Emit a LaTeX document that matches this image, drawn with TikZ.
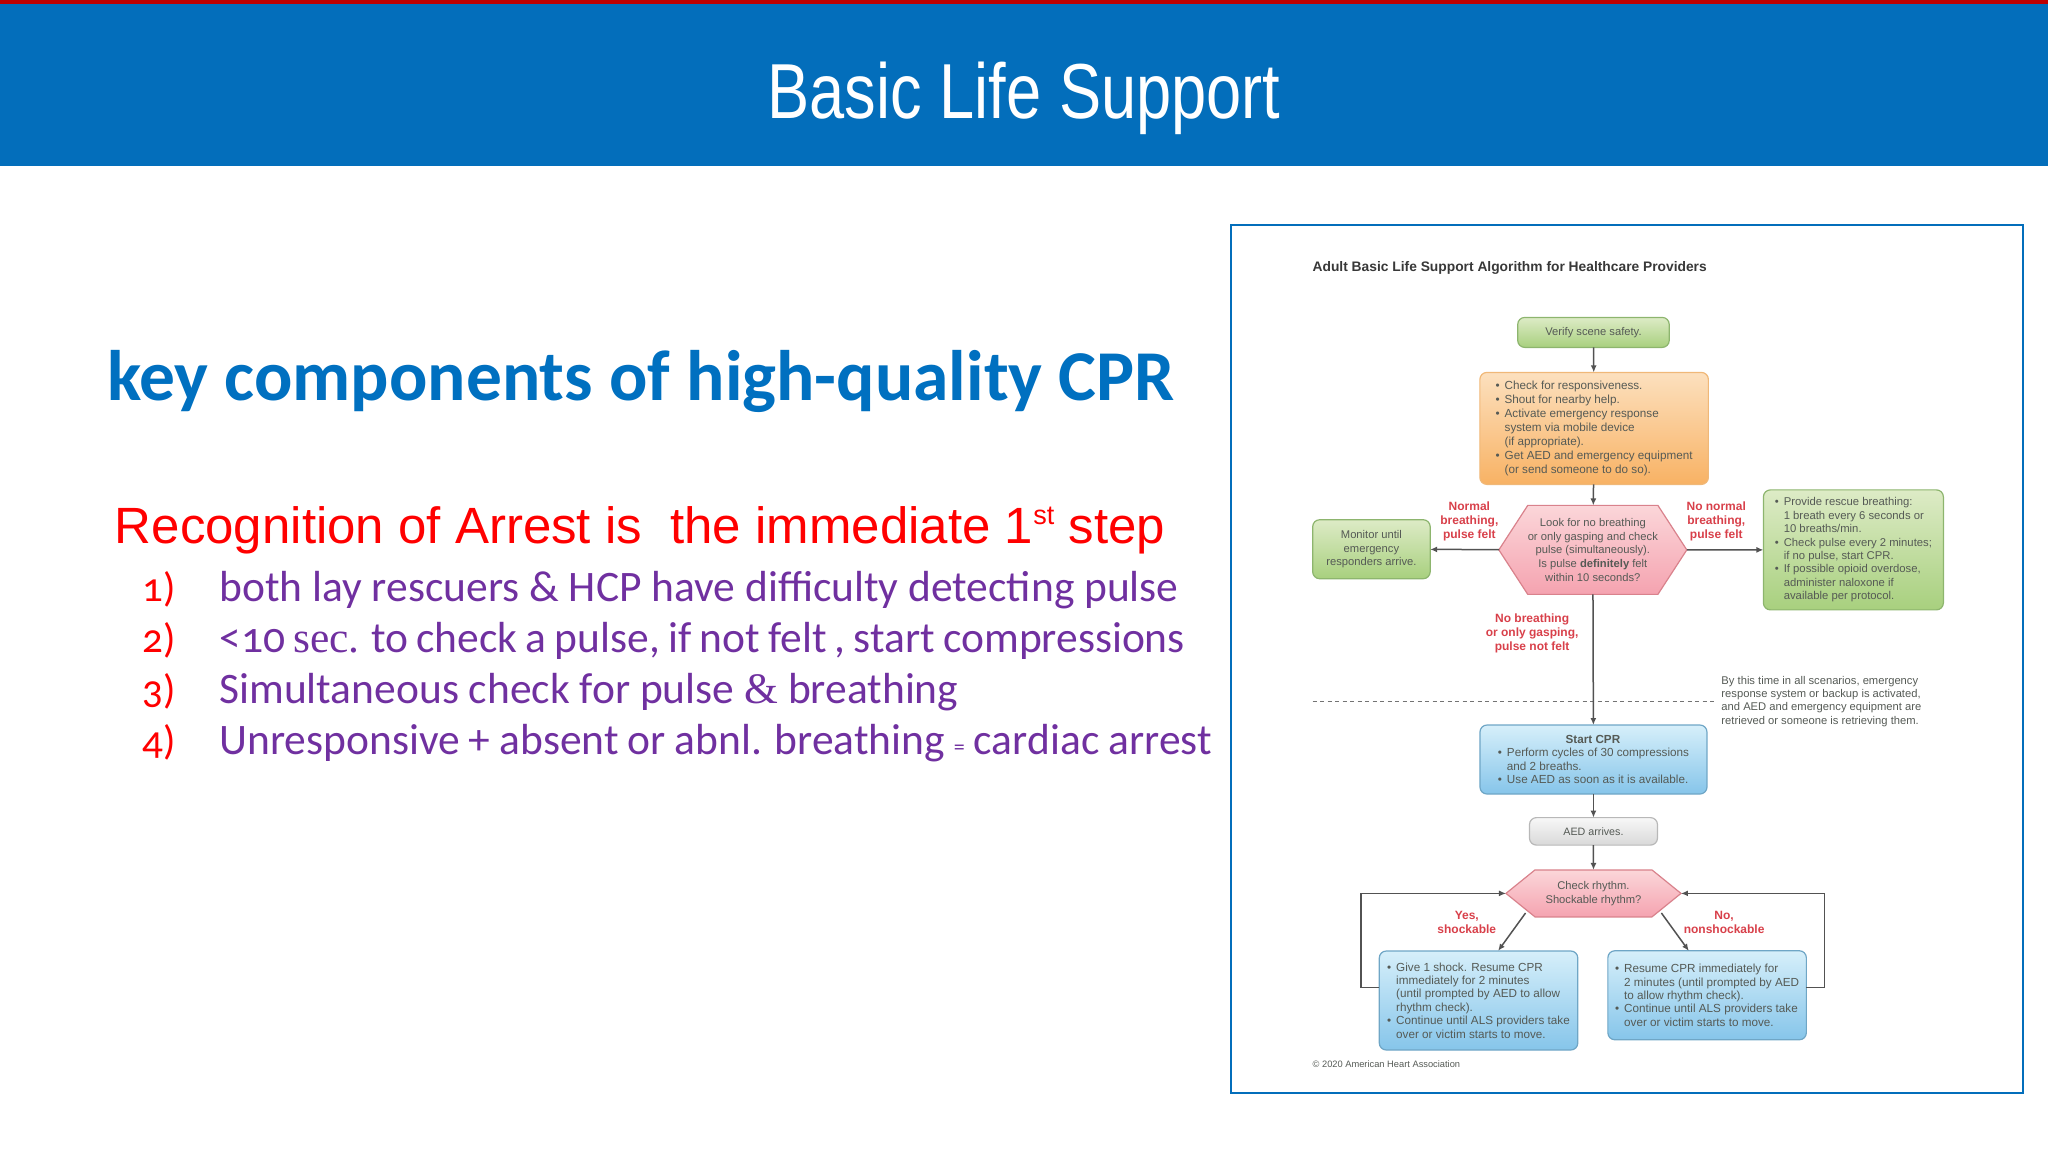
\documentclass[tikz,border=0pt]{standalone}
\usepackage{fontspec}
\setmainfont{Liberation Sans}
\newfontfamily\carl[Numbers=OldStyle]{Carlito}
\newfontfamily\serifx{Liberation Serif}
\usetikzlibrary{shapes.symbols,arrows.meta}
\definecolor{hdr}{HTML}{036EBB}
\definecolor{ttl}{HTML}{0070C0}
\definecolor{purp}{HTML}{7030A0}
\definecolor{txtg}{HTML}{555A55}
\definecolor{lblr}{HTML}{D8404A}
\definecolor{gtop}{HTML}{DDEBC6}
\definecolor{gbot}{HTML}{A8D07E}
\definecolor{gedg}{HTML}{8DB56E}
\definecolor{otop}{HTML}{FCE0BE}
\definecolor{obot}{HTML}{F8B264}
\definecolor{oedg}{HTML}{F0B878}
\definecolor{btop}{HTML}{D6EFFA}
\definecolor{bbot}{HTML}{86C5EA}
\definecolor{bedg}{HTML}{6FA6C6}
\definecolor{ptop}{HTML}{FBD6D9}
\definecolor{pbot}{HTML}{F5A3B0}
\definecolor{pedg}{HTML}{D9828C}
\newcommand{\bu}{\makebox[9pt][l]{\textbullet}}
\newcommand{\cn}{\hspace*{9pt}}
\tikzset{
  every node/.style={inner sep=0pt,outer sep=0pt},
  ftext/.style={text=txtg,font=\fontsize{11.7}{14.1}\selectfont,align=left},
  rtext/.style={text=txtg,font=\fontsize{11.3}{13.45}\selectfont,align=left},
  ntext/.style={text=txtg,font=\fontsize{11.2}{13.4}\selectfont,align=left},
  ctext/.style={text=txtg,font=\fontsize{11.2}{13.6}\selectfont,align=center},
  flab/.style={text=lblr,font=\bfseries\fontsize{12}{13.8}\selectfont,align=center},
  boxg/.style={draw=#1,line width=1.2pt,rounded corners=7pt},
  greenb/.style={boxg=gedg,top color=gtop,bottom color=gbot},
  orangeb/.style={boxg=oedg,top color=otop,bottom color=obot},
  blueb/.style={boxg=bedg,top color=btop,bottom color=bbot},
  grayb/.style={boxg=black!28,top color=black!3,bottom color=black!15},
  hexb/.style={shape=signal,signal to=west and east,draw=pedg,line width=1.2pt,top color=ptop,bottom color=pbot},
  conn/.style={draw=black!68,line width=1.5pt,-{Latex[length=7pt,width=6pt]}},
  redl/.style={anchor=base west,text=red,font=\fontsize{51}{60}\selectfont},
  numl/.style={anchor=base west,text=red,font=\carl\fontsize{41}{44}\selectfont},
  purl/.style={anchor=base west,text=purp,font=\carl\fontsize{43.5}{50}\selectfont},
}
\begin{document}
\begin{tikzpicture}[x=1.30612pt,y=-1.30612pt]
\useasboundingbox (0,0) rectangle (1568,882);
\fill[hdr] (0,0) rectangle (1568,127);
\fill[red!75!black] (0,0) rectangle (1568,3);
\node[anchor=base] (title) at (784,91) {\textcolor{white}{\fontsize{78}{84}\selectfont\scalebox{0.81}[1]{Basic Life Support}}};
\node[anchor=base west,text=ttl,font=\carl\bfseries\fontsize{71.5}{80}\selectfont] (key) at (82,307) {key components of high-quality CPR};
\node[redl] (rec) at (88,416) {Recognition of Arrest is\ \ the immediate 1\raisebox{0.36em}{\fontsize{27}{27}\selectfont st} step};
\node[numl] (n1) at (109,460.5) {1)};
\node[numl] (n2) at (109,499.5) {2)};
\node[numl] (n3) at (109,538.5) {3)};
\node[numl] (n4) at (109,577.5) {4)};
\node[purl] (l1) at (168,460.5) {both lay rescuers \& HCP have difficulty detecting pulse};
\node[purl] (l2) at (168,499.5) {\spaceskip=8.2pt <10 {\serifx sec.} to check a pulse, if not felt , start compressions};
\node[purl] (l3) at (168,538.5) {Simultaneous check for pulse {\serifx\&} breathing};
\node[purl] (l4) at (168,577.5) {\spaceskip=9pt Unresponsive + absent or abnl. breathing {\fontsize{22}{22}\selectfont =} cardiac arrest};
% figure frame
\draw[hdr,line width=2pt] (942.5,172) rectangle (1549,837);
\node[anchor=west,text=black!78,font=\bfseries\fontsize{13.8}{16}\selectfont] (ftitle) at (1005,205) {Adult Basic Life Support Algorithm for Healthcare Providers};
\coordinate (dl) at (1005,537);
\coordinate (dr) at (1315,537);
\draw[black!55,line width=1.4pt,dash pattern=on 4pt off 3.5pt] (dl) -- (dr);
\node[greenb,minimum width=151.5pt,minimum height=30pt,ctext] (verify) at (1220,254.5) {Verify scene safety.};
\node[orangeb,minimum width=228.5pt,minimum height=112pt,ftext] (resp) at (1220.5,328) {\bu Check for responsiveness.\\\bu Shout for nearby help.\\\bu Activate emergency response\\\cn system via mobile device\\\cn (if appropriate).\\\bu Get AED and emergency equipment\\\cn (or send someone to do so).};
\node[hexb,minimum width=187pt,minimum height=89pt,signal pointer angle=114,ctext] (look) at (1219.5,421) {Look for no breathing\\or only gasping and check\\pulse (simultaneously).\\Is pulse \textbf{definitely} felt\\within 10 seconds?};
\node[greenb,minimum width=117.5pt,minimum height=59pt,ctext] (mon) at (1050,420.5) {Monitor until\\emergency\\responders arrive.};
\node[greenb,minimum width=180pt,minimum height=120pt,rtext] (rescue) at (1419,421) {\bu Provide rescue breathing:\\\cn 1 breath every 6 seconds or\\\cn 10 breaths/min.\\\bu Check pulse every 2 minutes;\\\cn if no pulse, start CPR.\\\bu If possible opioid overdose,\\\cn administer naloxone if\\\cn available per protocol.};
\node[flab] (lnorm) at (1125,399) {Normal\\breathing,\\pulse felt};
\node[flab] (lnon) at (1314,399) {No normal\\breathing,\\pulse felt};
\node[flab] (lnob) at (1173,485) {No breathing\\or only gasping,\\pulse not felt};
\node[ntext,anchor=west] (bythis) at (1318,537) {By this time in all scenarios, emergency\\response system or backup is activated,\\and AED and emergency equipment are\\retrieved or someone is retrieving them.};
\node[blueb,minimum width=227pt,minimum height=69pt,ftext,font=\fontsize{11.7}{13.4}\selectfont] (start) at (1220,581.5) {\makebox[190pt][c]{\textbf{Start CPR}}\\\bu Perform cycles of 30 compressions\\\cn and 2 breaths.\\\bu Use AED as soon as it is available.};
\node[grayb,minimum width=128pt,minimum height=27.5pt,ctext,font=\fontsize{10.7}{13}\selectfont] (aed) at (1220,636.5) {AED arrives.};
\node[hexb,minimum width=175pt,minimum height=47pt,signal pointer angle=78,ctext] (check) at (1220,684) {Check rhythm.\\Shockable rhythm?};
\node[blueb,minimum width=198.5pt,minimum height=99pt,ftext,font=\fontsize{11.7}{13.4}\selectfont] (ls) at (1132,766) {\bu Give 1 shock. Resume CPR\\\cn immediately for 2 minutes\\\cn (until prompted by AED to allow\\\cn rhythm check).\\\bu Continue until ALS providers take\\\cn over or victim starts to move.};
\node[blueb,minimum width=198.5pt,minimum height=89pt,ftext,font=\fontsize{11.7}{13.4}\selectfont] (rs) at (1307,762) {\bu Resume CPR immediately for\\\cn 2 minutes (until prompted by AED\\\cn to allow rhythm check).\\\bu Continue until ALS providers take\\\cn over or victim starts to move.};
\node[flab] (lyes) at (1123,706) {Yes,\\shockable};
\node[flab] (lno) at (1320,706) {No,\\nonshockable};
\node[anchor=west,text=txtg,font=\fontsize{9.3}{11}\selectfont] (copy) at (1005,815) {© 2020 American Heart Association};
% connectors
\draw[conn] (verify) -- (resp);
\draw[conn] (resp) -- (look);
\draw[conn] (look) -- (mon);
\draw[conn] (look) -- (rescue);
\draw[conn] (look) -- (start);
\draw[conn] (start) -- (aed);
\draw[conn] (aed) -- (check);
\coordinate (cl) at (1168,699);
\coordinate (cr) at (1272,699);
\coordinate (lst) at (1147,728);
\coordinate (rst) at (1293,728);
\draw[conn] (cl) -- (lst);
\draw[conn] (cr) -- (rst);
\coordinate (lsy) at (1056,756);
\coordinate (rsy) at (1383,756);
\draw[conn] (lsy) -- (1042,756) -- (1042,684) -- (check.west);
\draw[conn] (rsy) -- (1397,756) -- (1397,684) -- (check.east);
\end{tikzpicture}
\end{document}
